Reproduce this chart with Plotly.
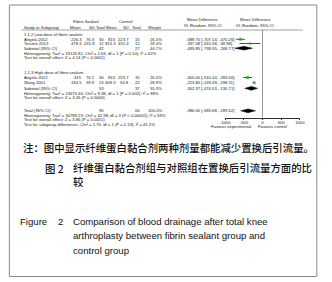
import plotly.graph_objects as go

W, H = 332, 282
def X(p): return p / W
def Y(p): return 1 - p / H

# ---------------- data ----------------
studies = ["Angela 2012", "Torsten 2013", "Angela 2012", "Wang 2001"]
exp_mean = ["226.3", "478.4", "415", "184.5"]
exp_sd = ["76.3", "231.8", "76.2", "39.9"]
exp_n = ["30", "12", "30", "23"]
ctl_mean = ["815", "815.3", "815", "408.3"]
ctl_sd = ["223.7", "431.4", "223.7", "54.8"]
ctl_n = ["15", "12", "15", "22"]
weights = [26.4, 18.4, 26.4, 28.9]
md = [-588.70, -337.08, -400.00, -223.80]
md_lo = [-707.14, -615.58, -516.44, -249.49]
md_hi = [-470.26, -58.58, -283.56, -198.11]

pooled_labels = ["Subtotal (95% CI)", "Subtotal (95% CI)", "Total (95% CI)"]
pooled_exp_n = ["42", "53", "95"]
pooled_ctl_n = ["27", "37", "64"]
pooled_w = ["44.7%", "55.3%", "100.0%"]
pooled_md = [-495.85, -302.37, -386.65]
pooled_lo = [-738.55, -474.03, -583.68]
pooled_hi = [-268.77, -130.71, -189.62]

subgroups = ["1.1.2 Low-dose of fibrin sealant", "1.1.3 High-dose of fibrin sealant"]
stats_lines = [
    "Heterogeneity: Tau\u00b2 = 19126.81; Chi\u00b2 = 2.63, df = 1 (P = 0.10); I\u00b2 = 62%",
    "Test for overall effect: Z = 4.14 (P < 0.0001)",
    "Heterogeneity: Tau\u00b2 = 13673.46; Chi\u00b2 = 9.38, df = 1 (P = 0.002); I\u00b2 = 89%",
    "Test for overall effect: Z = 3.45 (P = 0.0006)",
    "Heterogeneity: Tau\u00b2 = 34789.23; Chi\u00b2 = 42.98, df = 3 (P < 0.00001); I\u00b2 = 93%",
    "Test for overall effect: Z = 3.86 (P = 0.0001)",
    "Test for subgroup differences: Chi\u00b2 = 1.70, df = 1 (P = 0.19), I\u00b2 = 41.2%",
]
tick_vals = [-1000, -500, 0, 500, 1000]
tick_text = ["-1000", "-500", "0", "500", "1000"]

caption_note = "注：图中显示纤维蛋白黏合剂两种剂量都能减少置换后引流量。"
caption_cn_1 = "图 2"
caption_cn_2 = "纤维蛋白黏合剂组与对照组在置换后引流量方面的比"
caption_cn_3 = "较"
caption_en_1 = "Figure"
caption_en_2 = "2"
caption_en_lines = ["Comparison of blood drainage after total knee",
                    "arthroplasty between fibrin sealant group and",
                    "control group"]

# ---------------- layout (pixel rows) ----------------
study_y = [39.3, 43.5, 77.5, 82.7]
pooled_y = [48.2, 88.3, 110.8]
subgroup_y = [34.4, 72.8]
stats_y = [53.0, 57.4, 93.0, 97.4, 115.3, 119.7, 124.1]

FS = 4.2
FONT = "Liberation Sans"
TXT = "#222222"
GREEN = "#1db31d"

fig = go.Figure()

# study points with CI
fig.add_trace(go.Scatter(
    x=md, y=study_y, mode="markers",
    marker=dict(symbol="square", color=GREEN, size=[1.6 + w * 0.05 for w in weights], line=dict(width=0)),
    error_x=dict(type="data", symmetric=False,
                 array=[h - m for h, m in zip(md_hi, md)],
                 arrayminus=[m - l for m, l in zip(md, md_lo)],
                 color="black", thickness=0.7, width=0),
    hoverinfo="skip", showlegend=False))

# diamonds
for m, lo, hi, yy in zip(pooled_md, pooled_lo, pooled_hi, pooled_y):
    h = 1.9
    fig.add_trace(go.Scatter(
        x=[lo, m, hi, m, lo], y=[yy, yy - h, yy, yy + h, yy],
        mode="lines", fill="toself", fillcolor="black",
        line=dict(color="black", width=0.5), hoverinfo="skip", showlegend=False))

ann = []
def T(x, y, s, anchor="left", size=FS, color=TXT, family=FONT, weight=None, **kw):
    f = dict(size=size, color=color, family=family)
    if weight is not None:
        f["weight"] = weight
    ann.append(dict(x=X(x), y=Y(y), xref="paper", yref="paper", text=s, showarrow=False,
                    xanchor=anchor, yanchor="middle", font=f, **kw))

# headers
T(84, 21, "Fibrin Sealant", "center")
T(125, 21, "Control", "center")
T(204, 20, "Mean Difference", "center")
T(204, 25.3, "IV, Random, 95% CI", "center")
T(258, 20, "Mean Difference", "center")
T(258, 25.3, "IV, Random, 95% CI", "center")
T(18, 27.6, "Study or Subgroup")
for xx, s in [(80, "Mean"), (95, "SD"), (105, "Total"), (118, "Mean"), (130, "SD"), (142, "Total"), (164, "Weight")]:
    T(xx, 27.6, s, "right")

colx = [81, 95, 104, 116, 130, 141, 164]
for i in range(len(studies)):
    yy = study_y[i]
    T(18, yy, studies[i])
    vals = [exp_mean[i], exp_sd[i], exp_n[i], ctl_mean[i], ctl_sd[i], ctl_n[i], f"{weights[i]:.1f}%"]
    for xx, v in zip(colx, vals):
        T(xx, yy, v, "right")
    T(185, yy, f"{md[i]:.2f} [{md_lo[i]:.2f}, {md_hi[i]:.2f}]")

for i in range(len(pooled_labels)):
    yy = pooled_y[i]
    T(18, yy, pooled_labels[i])
    T(104, yy, pooled_exp_n[i], "right")
    T(141, yy, pooled_ctl_n[i], "right")
    T(164, yy, pooled_w[i], "right")
    T(185, yy, f"{pooled_md[i]:.2f} [{pooled_lo[i]:.2f}, {pooled_hi[i]:.2f}]")

for s, yy in zip(subgroups, subgroup_y):
    T(18, yy, s)
for s, yy in zip(stats_lines, stats_y):
    T(18, yy, s)

T(256, 126.6, "Favours experimental", "right")
T(259, 126.6, "Favours control", "left")

# captions
CJK = "Noto Sans CJK SC"
T(16.5, 147, caption_note, size=10.4, color="#111", family=CJK, weight=500)
T(39, 168, caption_cn_1, size=10.4, color="#111", family=CJK, weight=500)
T(68, 174.6, caption_cn_2 + "<br>" + caption_cn_3, size=10.4, color="#111", family=CJK, weight=500,
  align="left")
T(13, 221, caption_en_1, size=9.6, color="#111")
T(52.5, 221, caption_en_2, size=9.6, color="#111")
for s, yy in zip(caption_en_lines, [221, 235.7, 250.6]):
    T(68, yy, s, size=9.6, color="#111")

shapes = [
    dict(type="rect", xref="paper", yref="paper", x0=X(4.5), x1=X(321.5), y0=Y(276.5), y1=Y(5),
         line=dict(color="#8a8a8a", width=1)),
    dict(type="line", xref="paper", yref="paper", x0=X(17), x1=X(307), y0=Y(30), y1=Y(30),
         line=dict(color="#666", width=0.6)),
    dict(type="line", xref="x", yref="y", x0=0, x1=0, y0=30, y1=117.5,
         line=dict(color="#555", width=0.6)),
]

fig.update_layout(
    width=W, height=H, margin=dict(l=0, r=0, t=0, b=0),
    paper_bgcolor="white", plot_bgcolor="rgba(0,0,0,0)",
    annotations=ann, shapes=shapes, showlegend=False,
    xaxis=dict(domain=[X(227), X(304)], range=[-1000, 1000], tickvals=tick_vals, ticktext=tick_text,
               showgrid=False, zeroline=False, showline=True, linecolor="#333", linewidth=0.6,
               ticks="outside", ticklen=1.5, tickwidth=0.6, tickcolor="#333", ticklabelstandoff=-1,
               tickfont=dict(size=FS, family=FONT, color=TXT), fixedrange=True),
    yaxis=dict(domain=[Y(117.5), Y(30)], range=[117.5, 30], visible=False, fixedrange=True),
)

fig.write_html("out.html")
